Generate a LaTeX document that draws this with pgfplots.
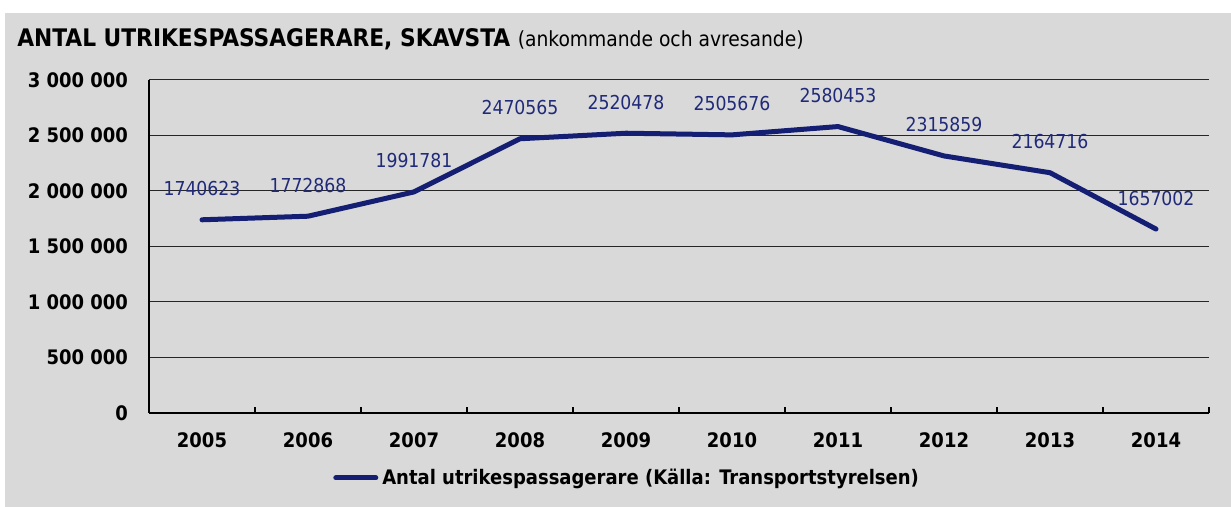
\documentclass[border=0pt]{standalone}
\usepackage{fontspec}
\setmainfont{DejaVu Sans Condensed}
\usepackage{pgfplots}
\pgfplotsset{compat=1.18}
\definecolor{bg}{RGB}{217,217,217}
\definecolor{navy}{RGB}{20,30,115}
\definecolor{lbl}{RGB}{32,42,120}
\begin{document}
\begin{tikzpicture}[x=1pt,y=1pt]
\useasboundingbox (-74.5,-47) rectangle (541,206.5);
\fill[white] (-74.5,-47) rectangle (541,206.5);
\fill[bg] (-72,-47) rectangle (541,200);
\node[anchor=base west, inner sep=0] at (-66,183)
  {\fontsize{12.1}{14}\selectfont\bfseries ANTAL UTRIKESPASSAGERARE, SKAVSTA\ \mdseries\fontsize{10.4}{12}\selectfont(ankommande och avresande)};
\begin{axis}[
    at={(0,0)}, anchor=south west,
    scale only axis, width=530pt, height=166.5pt,
    xmin=-0.5, xmax=9.5, ymin=0, ymax=3000000,
    scaled y ticks=false,
    axis x line*=bottom, axis y line*=left,
    axis line style={black, line width=0.6pt},
    xtick={0,...,9},
    xticklabels={2005,2006,2007,2008,2009,2010,2011,2012,2013,2014},
    major x tick style={draw=none},
    minor xtick={-0.5,0.5,...,9.5},
    minor x tick style={black, line width=0.6pt},
    minor tick length=3pt,
    tick align=inside,
    ytick={0,500000,1000000,1500000,2000000,2500000,3000000},
    yticklabels={0,500 000,1 000 000,1 500 000,2 000 000,2 500 000,3 000 000},
    major y tick style={draw=none},
    ymajorgrids, grid style={black!85, line width=0.5pt},
    tick label style={font=\fontsize{10}{12}\selectfont\bfseries},
    yticklabel style={xshift=-7pt},
    xticklabel style={yshift=-6.5pt},
    clip=false,
    point meta=explicit symbolic,
    nodes near coords,
    every node near coord/.append style={anchor=center, yshift=15.5pt, text=lbl, font=\fontsize{9.6}{11}\selectfont},
    legend style={at={(0.452,-0.195)}, anchor=center, draw=none, fill=none,
        font=\fontsize{10}{12}\selectfont\bfseries, inner sep=0pt},
    legend image code/.code={\draw[#1] (0pt,0pt) -- (20pt,0pt);},
]
\addplot[navy, line width=2.5pt, line join=round, line cap=round] coordinates {
    (0,1740623) [1740623]
    (1,1772868) [1772868]
    (2,1991781) [1991781]
    (3,2470565) [2470565]
    (4,2520478) [2520478]
    (5,2505676) [2505676]
    (6,2580453) [2580453]
    (7,2315859) [2315859]
    (8,2164716) [2164716]
    (9,1657002) [1657002]
};
\addlegendentry{Antal utrikespassagerare (Källa: Transportstyrelsen)}
\end{axis}
\end{tikzpicture}
\end{document}
